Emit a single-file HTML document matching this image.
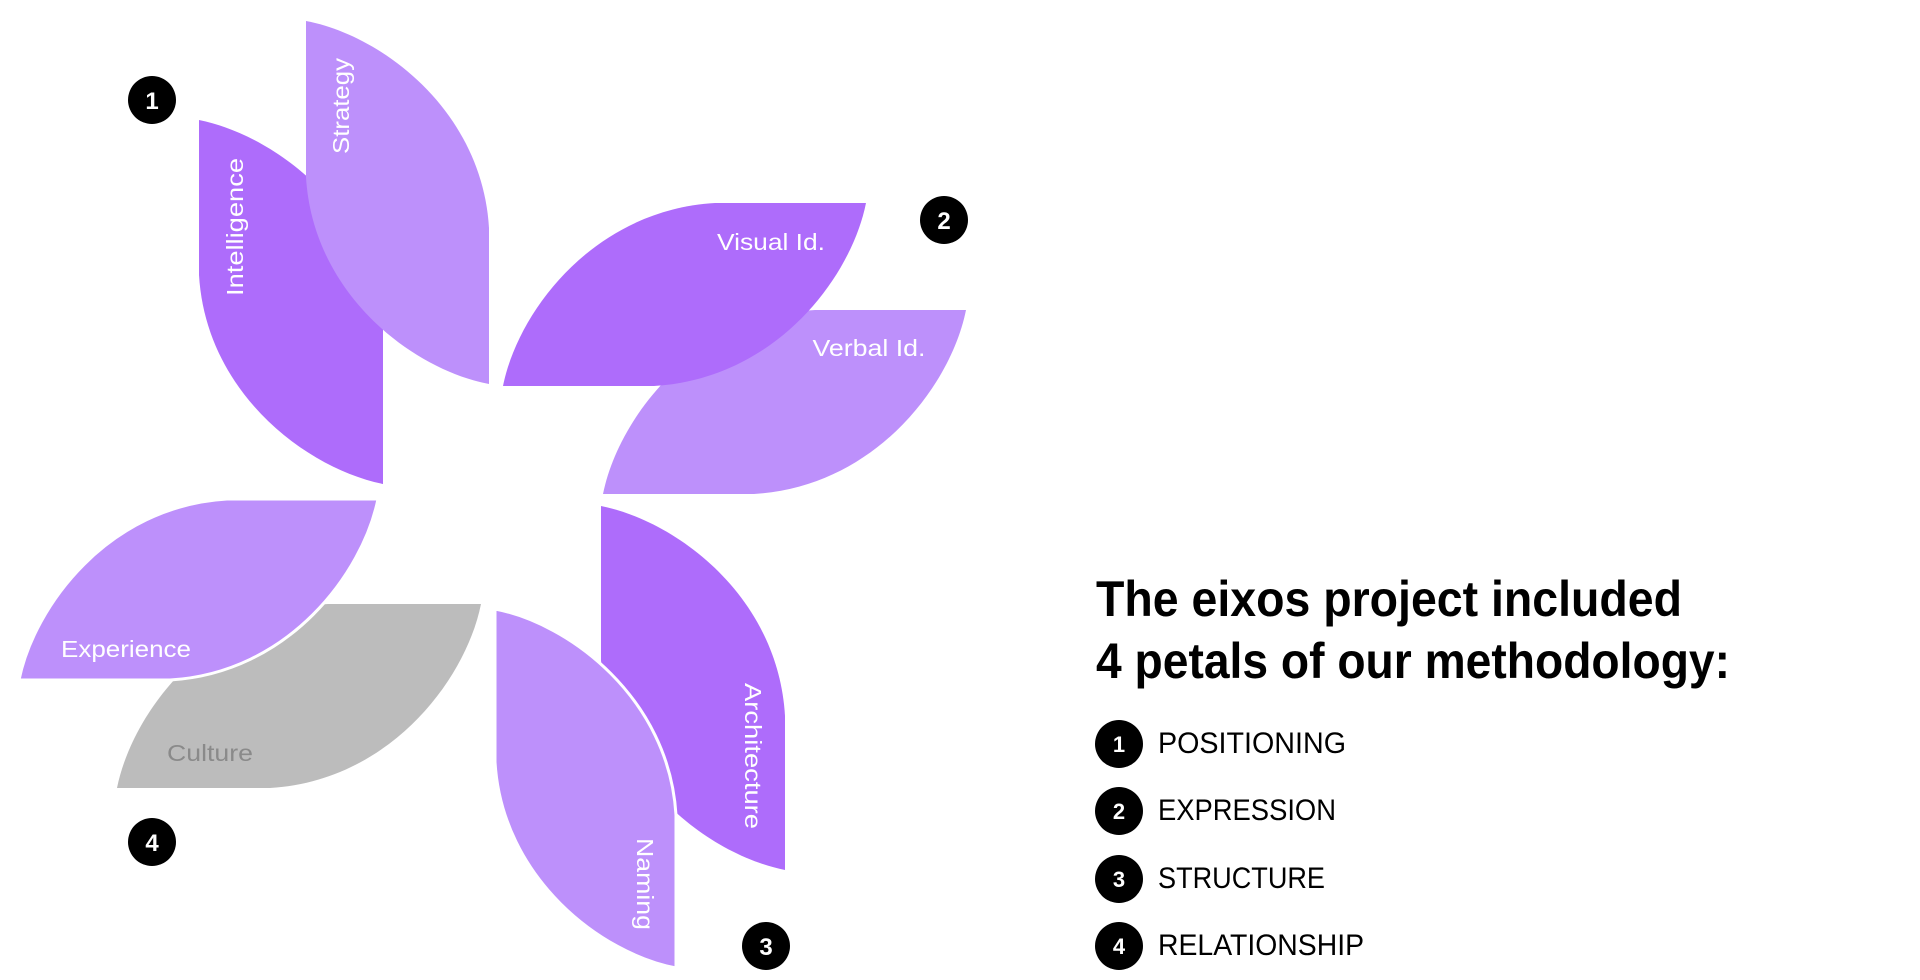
<!DOCTYPE html>
<html><head><meta charset="utf-8"><style>
html,body{margin:0;padding:0;background:#fff;width:1920px;height:980px;overflow:hidden}
svg{display:block}
</style></head><body>
<svg width="1920" height="980" viewBox="0 0 1920 980" xmlns="http://www.w3.org/2000/svg" font-family="Liberation Sans, sans-serif">
<!-- Intelligence -->
<path d="M199 120 C274 135 376 210 383 329 L383 484 C308 469 206 394 199 275 Z" fill="#ae6cfb"/>
<!-- Strategy -->
<path d="M306 21 C381 35 482 110 489 228 L489 384 C414 370 313 295 306 177 Z" fill="#bd90fb"/>
<!-- Verbal Id -->
<path d="M603 494 C618 419 694 317 815 310 L966 310 C951 385 875 487 754 494 Z" fill="#bd90fb"/>
<!-- Visual Id -->
<path d="M503 386 C518 311 594 210 715 203 L866 203 C851 278 775 379 654 386 Z" fill="#ae6cfb"/>
<!-- Architecture -->
<path d="M601 506 C676 521 778 596 785 716 L785 870 C710 855 608 780 601 660 Z" fill="#ae6cfb"/>
<!-- Naming -->
<path d="M495 609 C569 623 669 698 676 815 L676 968 C602 954 502 879 495 762 Z" fill="#bd90fb" stroke="#fff" stroke-width="3"/>
<!-- Culture -->
<path d="M117 788 C132 713 208 611 328 604 L481 604 C466 679 390 781 270 788 Z" fill="#bcbcbc"/>
<!-- Experience -->
<path d="M19 680 C34 606 108 506 227 499 L378 499 C363 573 289 673 170 680 Z" fill="#bd90fb" stroke="#fff" stroke-width="3"/>

<g fill="#fff" font-size="23">
<text transform="translate(349 106) rotate(-90)" text-anchor="middle" textLength="96" lengthAdjust="spacingAndGlyphs">Strategy</text>
<text transform="translate(243 227) rotate(-90)" text-anchor="middle" textLength="138" lengthAdjust="spacingAndGlyphs">Intelligence</text>
<text x="771" y="250" text-anchor="middle" textLength="108" lengthAdjust="spacingAndGlyphs">Visual Id.</text>
<text x="869" y="356" text-anchor="middle" textLength="113" lengthAdjust="spacingAndGlyphs">Verbal Id.</text>
<text x="126" y="657" text-anchor="middle" textLength="130" lengthAdjust="spacingAndGlyphs">Experience</text>
<text transform="translate(745 756) rotate(90)" text-anchor="middle" textLength="146" lengthAdjust="spacingAndGlyphs">Architecture</text>
<text transform="translate(637 884) rotate(90)" text-anchor="middle" textLength="92" lengthAdjust="spacingAndGlyphs">Naming</text>
</g>
<text x="210" y="761" text-anchor="middle" font-size="23" fill="#8a8a8a" textLength="86" lengthAdjust="spacingAndGlyphs">Culture</text>

<g font-weight="bold" font-size="24" text-anchor="middle">
<circle cx="152" cy="100" r="24" fill="#000"/><text x="152" y="109" fill="#fff">1</text>
<circle cx="944" cy="220" r="24" fill="#000"/><text x="944" y="229" fill="#fff">2</text>
<circle cx="766" cy="946" r="24" fill="#000"/><text x="766" y="955" fill="#fff">3</text>
<circle cx="152" cy="842" r="24" fill="#000"/><text x="152" y="851" fill="#fff">4</text>
</g>

<g font-weight="bold" font-size="50" fill="#000">
<text x="1096" y="616" textLength="586" lengthAdjust="spacingAndGlyphs">The eixos project included</text>
<text x="1096" y="678" textLength="634" lengthAdjust="spacingAndGlyphs">4 petals of our methodology:</text>
</g>

<g font-weight="bold" font-size="22" text-anchor="middle">
<circle cx="1119" cy="744" r="24" fill="#000"/><text x="1119" y="752" fill="#fff">1</text>
<circle cx="1119" cy="811" r="24" fill="#000"/><text x="1119" y="819" fill="#fff">2</text>
<circle cx="1119" cy="879" r="24" fill="#000"/><text x="1119" y="887" fill="#fff">3</text>
<circle cx="1119" cy="946" r="24" fill="#000"/><text x="1119" y="954" fill="#fff">4</text>
</g>
<g font-size="30" fill="#000">
<text x="1158" y="753" textLength="188" lengthAdjust="spacingAndGlyphs">POSITIONING</text>
<text x="1158" y="820" textLength="178" lengthAdjust="spacingAndGlyphs">EXPRESSION</text>
<text x="1158" y="888" textLength="167" lengthAdjust="spacingAndGlyphs">STRUCTURE</text>
<text x="1158" y="955" textLength="206" lengthAdjust="spacingAndGlyphs">RELATIONSHIP</text>
</g>
</svg>
</body></html>
